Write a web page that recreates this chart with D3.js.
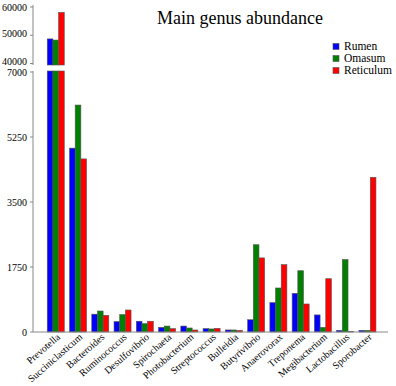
<!DOCTYPE html>
<html>
<head>
<meta charset="utf-8">
<script src="https://cdn.jsdelivr.net/npm/d3@7"></script>
<style>
  body { margin: 0; background: #fff; }
</style>
</head>
<body>
<svg id="chart" width="396" height="386"></svg>
<script>
const genera = ['Prevotella', 'Succiniclasticum', 'Bacteroides', 'Ruminococcus', 'Desulfovibrio',
  'Spirochaeta', 'Photobacterium', 'Streptococcus', 'Bulleidia', 'Butyrivibrio',
  'Anaerovorax', 'Treponema', 'Megibacterium', 'Lactobacillus', 'Sporobacter'];
const seriesNames = ['Rumen', 'Omasum', 'Reticulum'];
const colors = ['#0000ff', '#008000', '#ff0000'];

const rumen     = [48700, 4950, 480, 280, 290, 125, 160, 90, 55, 330, 790, 1040, 460, 45, 45];
const omasum    = [48300, 6110, 565, 470, 225, 160, 108, 82, 55, 2350, 1185, 1650, 126, 1950, 45];
const reticulum = [58100, 4660, 450, 592, 290, 90, 54, 99, 45, 1995, 1812, 754, 1435, 18, 4165];

const topTicks = [40000, 50000, 60000];
const bottomTicks = [0, 1750, 3500, 5250, 7000];

const FONT = "'Liberation Serif', 'Times New Roman', Times, serif";
const svg = d3.select('#chart');
const axisX = 33, axisRight = 388;

const x = d3.scaleBand().domain(genera).range([42, 381.2]).padding(0.236);
const xs = d3.scaleBand().domain(seriesNames).range([0, x.bandwidth()]);

const yTop = d3.scaleLinear().domain([40000, 60000]).range([63.5, 7]);
const yBot = d3.scaleLinear().domain([0, 7000]).range([332, 72]);
const topFloor = 65, botCeil = 71;

const rows = genera.map((g, i) => ({ genus: g, values: [rumen[i], omasum[i], reticulum[i]] }));

// bars
const groups = svg.selectAll('g.grp')
  .data(rows)
  .enter()
  .append('g')
  .attr('class', 'grp')
  .attr('transform', d => `translate(${x(d.genus)},0)`);

groups.selectAll('rect.bot')
  .data(d => d.values.map((v, k) => ({ v, k })))
  .enter()
  .append('rect')
  .attr('x', d => xs(seriesNames[d.k]))
  .attr('width', xs.bandwidth())
  .attr('y', d => Math.max(botCeil, yBot(d.v)))
  .attr('height', d => yBot(0) - Math.max(botCeil, yBot(d.v)))
  .attr('fill', d => colors[d.k])
  .attr('stroke', '#555')
  .attr('stroke-width', 0.6);

groups.selectAll('rect.top')
  .data(d => d.values.filter(v => v > 7000).map((v, k) => ({ v, k })))
  .enter()
  .append('rect')
  .attr('x', d => xs(seriesNames[d.k]))
  .attr('width', xs.bandwidth())
  .attr('y', d => yTop(d.v))
  .attr('height', d => topFloor - yTop(d.v))
  .attr('fill', d => colors[d.k])
  .attr('stroke', '#555')
  .attr('stroke-width', 0.6);

// axes
const axisColor = '#888';
svg.append('line').attr('x1', axisX).attr('x2', axisX).attr('y1', 5).attr('y2', topFloor)
  .attr('stroke', axisColor);
svg.append('line').attr('x1', axisX).attr('x2', axisX).attr('y1', botCeil).attr('y2', yBot(0))
  .attr('stroke', axisColor);
svg.append('line').attr('x1', axisX).attr('x2', axisRight).attr('y1', yBot(0)).attr('y2', yBot(0))
  .attr('stroke', axisColor);

function ticks(scale, values, shift) {
  const g = svg.append('g');
  g.selectAll('line').data(values).enter().append('line')
    .attr('x1', axisX - 3).attr('x2', axisX)
    .attr('y1', d => scale(d)).attr('y2', d => scale(d))
    .attr('stroke', axisColor);
  g.selectAll('text').data(values).enter().append('text')
    .attr('x', axisX - 6)
    .attr('y', d => Math.max(8, scale(d) + shift))
    .attr('dy', '0.32em')
    .attr('text-anchor', 'end')
    .attr('font-family', FONT)
    .attr('font-size', 10)
    .text(d => d);
}
ticks(yTop, topTicks, -1.5);
ticks(yBot, bottomTicks, 0.5);

// category labels
svg.selectAll('text.cat')
  .data(genera)
  .enter()
  .append('text')
  .attr('class', 'cat')
  .attr('transform', d => `translate(${x(d) + x.bandwidth() / 2 + 5},${yBot(0) + 6}) rotate(-41)`)
  .attr('text-anchor', 'end')
  .attr('font-family', FONT)
  .attr('font-size', 10)
  .text(d => d);

// title
svg.append('text')
  .attr('x', 240).attr('y', 24)
  .attr('text-anchor', 'middle')
  .attr('font-family', FONT)
  .attr('font-size', 18)
  .text('Main genus abundance');

// legend
const legend = svg.selectAll('g.leg')
  .data(seriesNames)
  .enter()
  .append('g')
  .attr('transform', (d, i) => `translate(333,${46.5 + i * 12})`);
legend.append('rect')
  .attr('x', 0).attr('y', -3).attr('width', 6).attr('height', 6)
  .attr('fill', (d, i) => colors[i])
  .attr('stroke', '#555').attr('stroke-width', 0.6);
legend.append('text')
  .attr('x', 11).attr('y', 0).attr('dy', '0.33em')
  .attr('font-family', FONT)
  .attr('font-size', 11.5)
  .text(d => d);
</script>
</body>
</html>
